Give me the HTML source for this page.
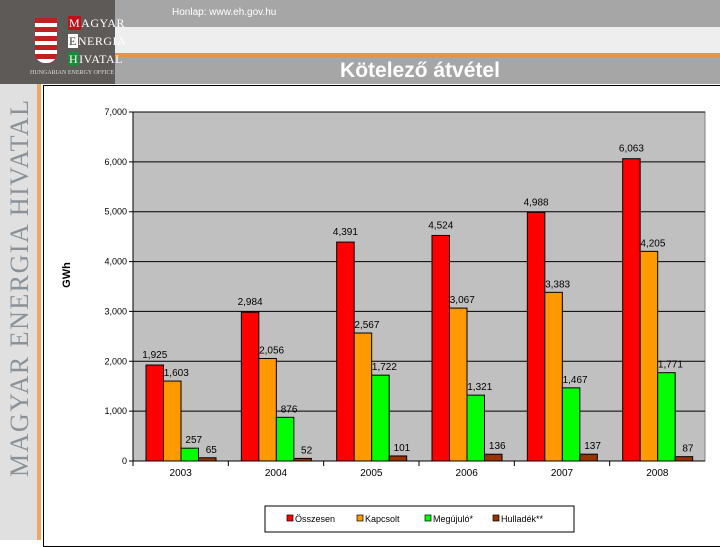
<!DOCTYPE html>
<html><head><meta charset="utf-8"><style>
body{margin:0;width:720px;height:540px;overflow:hidden;font-family:"Liberation Sans",sans-serif;background:#fff;position:relative}
div{position:absolute}
</style></head><body>
<div style="left:115px;top:0;width:605px;height:27px;background:#a6a6a6"></div>
<div style="left:172px;top:7px;font-size:10px;color:#fff">Honlap: www.eh.gov.hu</div>
<div style="left:115px;top:27px;width:605px;height:27px;background:#eeeeee"></div>
<div style="left:115px;top:53px;width:605px;height:4px;background:#e8943a"></div>
<div style="left:115px;top:57px;width:605px;height:27px;background:#a6a6a6"></div>
<div style="left:115px;top:57px;width:610px;line-height:27px;text-align:center;font-size:21px;font-weight:bold;color:#fff">Kötelező átvétel</div>
<div style="left:0;top:0;width:115px;height:84px;background:#5e5a58"></div>
<div style="left:68px;top:14px;font-family:'Liberation Serif',serif;font-size:12px;line-height:18px;color:#fff;letter-spacing:0.5px"><span style="background:#c0101a;padding:0 1px">M</span>AGYAR<br><span style="background:#fff;color:#333;padding:0 1px">E</span>NERGIA<br><span style="background:#1a8a3a;padding:0 1px">H</span>IVATAL</div>
<div style="left:30px;top:70px;font-size:6px;color:#ddd;font-family:'Liberation Serif',serif;white-space:nowrap">HUNGARIAN ENERGY OFFICE</div>
<div style="left:35px;top:18px;width:22px;height:45px;background:repeating-linear-gradient(#c02020 0 5px,#fff 5px 9px);border-radius:0 0 10px 10px"></div>
<div style="left:0;top:84px;width:37px;height:456px;background:#e0e0e0"></div>
<div style="left:37px;top:84px;width:4px;height:456px;background:#f0a860"></div>
<div style="left:-150px;top:292px;width:340px;height:30px;transform:rotate(-90deg);font-family:'Liberation Serif',serif;font-size:26px;color:#8a9298;letter-spacing:1.5px;text-align:center;white-space:nowrap">MAGYAR ENERGIA HIVATAL</div>
<div style="left:43px;top:85px;width:680px;height:460px;border:1px solid #000;background:#fff"></div>
<svg id="chart" width="720" height="540" style="position:absolute;left:0;top:0" font-family="Liberation Sans, sans-serif"></svg>
<script>
const categories=["2003","2004","2005","2006","2007","2008"];
const osszesen=[1925,2984,4391,4524,4988,6063];
const kapcsolt=[1603,2056,2567,3067,3383,4205];
const megujulo=[257,876,1722,1321,1467,1771];
const hulladek=[65,52,101,136,137,87];
const yTicks=[0,1000,2000,3000,4000,5000,6000,7000];
const seriesNames=["Összesen","Kapcsolt","Megújuló*","Hulladék**"];
const colors=["#ff0000","#ff9900","#00ff00","#993300"];
const svg=document.getElementById('chart');
const NS="http://www.w3.org/2000/svg";
const X0=133,X1=705,Y0=461,Y1=112,YMAX=7000;
const y=v=>Y0-(v/YMAX)*(Y0-Y1);
const gw=(X1-X0)/categories.length;
function mk(t,a,p){const e=document.createElementNS(NS,t);for(const k in a)e.setAttribute(k,a[k]);(p||svg).appendChild(e);return e;}
const bg=mk('rect',{x:X0,y:Y1,width:X1-X0,height:Y0-Y1,fill:'#c0c0c0',stroke:'#808080'});


yTicks.forEach(t=>{
 const l=mk('line',{x1:X0-4,x2:X1,y1:y(t),y2:y(t),stroke:'#000','stroke-width':1});
 
 
 const tx=mk('text',{x:X0-6,y:y(t)+3,'font-size':9,'text-anchor':'end'});
 tx.textContent=t.toLocaleString('en-US');
 
 
});
const ax=mk('line',{x1:X0,x2:X0,y1:Y1,y2:Y0,stroke:'#000'});


const yt=mk('text',{x:70,y:275,'font-size':11,'font-weight':'bold','text-anchor':'middle',transform:'rotate(-90 70 275)'});
yt.textContent='GWh';


const series=[osszesen,kapcsolt,megujulo,hulladek];
const bw=17.5,off=13;
categories.forEach((c,i)=>{
 const gx=X0+i*gw;
 const tk=mk('line',{x1:gx,x2:gx,y1:Y0,y2:Y0+5,stroke:'#000'});
 
 
 series.forEach((s,j)=>{
  const bx=gx+off+j*bw;
  const r=mk('rect',{x:bx,y:y(s[i]),width:bw,height:Y0-y(s[i]),fill:colors[j],stroke:'#000','stroke-width':1});
  
  
  const lb=mk('text',{x:bx+bw/2+(j==0?0:4),y:y(s[i])-(j==0?7:5),'font-size':10,'text-anchor':'middle'});
  lb.textContent=s[i].toLocaleString('en-US');
  
  
 });
 const xl=mk('text',{x:gx+gw/2,y:Y0+15,'font-size':10,'text-anchor':'middle'});
 xl.textContent=c;
 
 
});
const xa=mk('line',{x1:X0,x2:X1,y1:Y0,y2:Y0,stroke:'#000'});


const lg=mk('rect',{x:265,y:506,width:309,height:26,fill:'#fff',stroke:'#000'});


const lx=[287,357,425,493];
seriesNames.forEach((n,j)=>{
 const sq=mk('rect',{x:lx[j],y:515,width:6,height:6,fill:colors[j],stroke:'#000','stroke-width':0.7});
 
 
 const t=mk('text',{x:lx[j]+8,y:522,'font-size':9});
 t.textContent=n;
 
 
});
</script>
</body></html>
